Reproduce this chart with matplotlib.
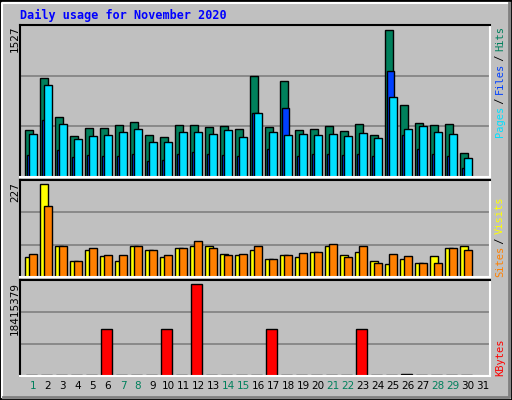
import matplotlib
matplotlib.use("Agg")
import matplotlib.pyplot as plt
from matplotlib.patches import Rectangle

days = list(range(1, 32))
hits = [490, 1030, 625, 428, 511, 511, 542, 573, 439, 418, 542, 542, 522, 532, 501,
        1050, 522, 998, 490, 501, 532, 480, 553, 439, 1527, 750, 563, 542, 553, 252, 0]
files = [231, 594, 283, 211, 231, 221, 221, 242, 169, 180, 242, 263, 242, 231, 221,
         667, 294, 718, 221, 242, 242, 231, 242, 221, 1102, 439, 294, 242, 221, 97, 0]
pages = [449, 957, 553, 397, 428, 439, 470, 501, 366, 366, 470, 470, 449, 490, 418,
         667, 470, 439, 449, 439, 449, 428, 459, 408, 833, 501, 532, 470, 449, 200, 0]
sites = [50, 227, 77, 38, 67, 52, 38, 77, 65, 50, 70, 77, 75, 57, 55,
         67, 45, 55, 48, 62, 75, 55, 62, 38, 33, 43, 35, 52, 70, 77, 0]
visits = [57, 173, 75, 38, 72, 55, 55, 77, 65, 55, 70, 89, 70, 55, 57,
          77, 43, 55, 60, 62, 82, 48, 75, 35, 57, 52, 35, 35, 72, 67, 0]
kbytes = [250000, 250000, 250000, 250000, 250000, 9342000, 250000, 250000, 250000, 9342000,
          250000, 18415379, 250000, 250000, 250000, 250000, 9342000, 250000, 250000, 250000,
          250000, 250000, 9342000, 250000, 250000, 470000, 250000, 250000, 250000, 250000, 0]
weekend = [1, 7, 8, 14, 15, 21, 22, 28, 29]

W, H = 512, 400
fig = plt.figure(figsize=(W / 100, H / 100), dpi=100)
fig.patch.set_facecolor("#C0C0C0")
# bevelled border
fig.patches.append(Rectangle((0, 0), 1, 1, transform=fig.transFigure, fill=False,
                             edgecolor="black", lw=2))
fig.lines.append(plt.Line2D([2 / W, 2 / W, 1 - 3 / W], [3 / H, 1 - 3 / H, 1 - 3 / H],
                            transform=fig.transFigure, color="white", lw=1.5))
fig.lines.append(plt.Line2D([3 / W, 1 - 3 / W, 1 - 3 / W], [3 / H, 3 / H, 1 - 3 / H],
                            transform=fig.transFigure, color="#808080", lw=2))

def panel(top, bottom):
    ax = fig.add_axes([20 / W, 1 - bottom / H, 470 / W, (bottom - top) / H])
    ax.set_facecolor("#C0C0C0")
    ax.set_xlim(1 - 5 / 15, 32)
    ax.set_xticks([])
    ax.set_yticks([])
    for s in ax.spines.values():
        s.set_color("white")
        s.set_linewidth(1.5)
    ax.spines["top"].set_color("black")
    ax.spines["left"].set_color("black")
    return ax

def grid(ax, ymax):
    for f in (1 / 3, 2 / 3):
        ax.axhline(ymax * f, color="#808080", lw=1.2, zorder=0)

ek = dict(edgecolor="black", linewidth=1, align="edge")

ax1 = panel(25, 177)
ymax1 = max(hits) / 0.97
ax1.set_ylim(0, ymax1)
grid(ax1, ymax1)
ax1.bar([d for d in days], hits, width=0.5, color="#00805C", **ek)
ax1.bar([d + 0.11 for d in days], files, width=0.5, color="#0040FF", **ek)
ax1.bar([d + 0.27 for d in days], pages, width=0.53, color="#00E0FF", **ek)

ax2 = panel(180, 277)
ymax2 = max(sites) / 0.955
ax2.set_ylim(0, ymax2)
grid(ax2, ymax2)
ax2.bar(days, sites, width=0.55, color="#FFFF00", **ek)
ax2.bar([d + 0.27 for d in days], visits, width=0.5, color="#FF8000", **ek)

ax3 = panel(280, 376)
ymax3 = max(kbytes) / 0.955
ax3.set_ylim(0, ymax3)
grid(ax3, ymax3)
ax3.bar([d + 0.07 for d in days], kbytes, width=0.7, color="#FF0000", **ek)

for d in days:
    ax3.text(d + 0.53, -0.1, str(d), transform=ax3.get_xaxis_transform(), ha="center",
             va="center", fontsize=7.5, color="#00805C" if d in weekend else "black")

fig.text(20 / W, 1 - 15 / H, "Daily usage for November 2020", color="#0000FF",
         fontsize=8.5, fontweight="bold", family="DejaVu Sans Mono", va="center")

for y, txt in ((25, "1527"), (182, "227"), (282, "18415379")):
    fig.text(15 / W, 1 - y / H, txt, rotation=90, ha="center", va="top", fontsize=7.5)

mono = dict(rotation=90, fontsize=7.5, family="DejaVu Sans Mono", ha="center", va="bottom")
def right_label(y_bottom, parts):
    # parts listed bottom-to-top
    y = y_bottom
    for txt, col in parts:
        fig.text(500 / W, 1 - y / H, txt, color=col, **mono)
        y -= len(txt) * 5.4
right_label(137, [("Pages", "#00E0FF"), (" / ", "black"), ("Files", "#0040FF"),
                  (" / ", "black"), ("Hits", "#00805C")])
right_label(277, [("Sites", "#FF8000"), (" / ", "black"), ("Visits", "#FFFF00")])
right_label(376, [("KBytes", "#FF0000")])

fig.savefig("out.png", dpi=100, facecolor=fig.get_facecolor())
